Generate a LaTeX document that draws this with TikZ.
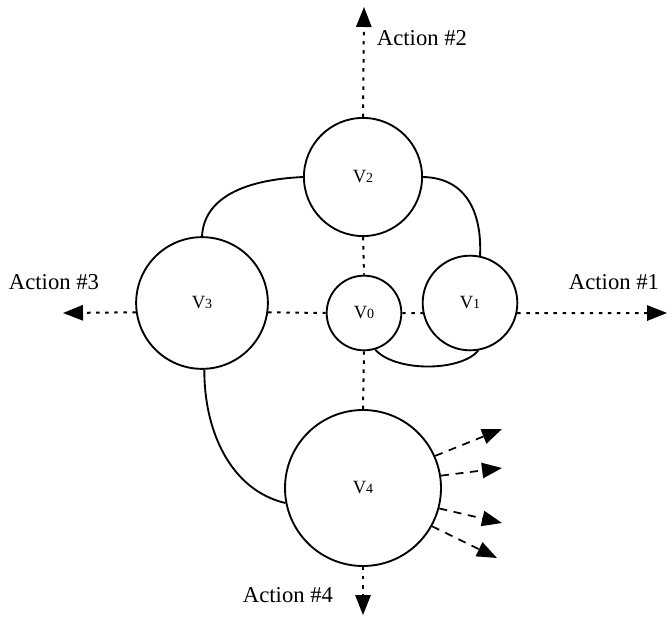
\documentclass[tikz,border=0pt]{standalone}
\usepackage{fontspec}
\setmainfont{Liberation Serif}
\usetikzlibrary{arrows.meta}
\newcommand\vlab[1]{{\fontsize{14}{16}\selectfont V}{\fontsize{10.5}{12}\selectfont #1}}
\tikzset{
  state/.style={circle,draw,line width=1.4pt,inner sep=0pt},
  act/.style={font=\fontsize{17}{20}\selectfont,inner sep=0pt},
  dotline/.style={line width=1.5pt,dash pattern=on 2.6pt off 4.2pt},
  dashline/.style={line width=1.3pt,dash pattern=on 6pt off 5pt},
  head/.style={-{Triangle[length=15pt,width=11.5pt]}},
  link/.style={line width=1.4pt}
}
\begin{document}
\begin{tikzpicture}[x=0.75pt,y=-0.75pt]
\useasboundingbox (0,0) rectangle (667,617);
% states
\node[state,minimum size=88.6pt] (v2) at (363,177) {\vlab{2}};
\node[state,minimum size=98.8pt] (v3) at (202,303) {\vlab{3}};
\node[state,minimum size=56pt]   (v0) at (364,313) {\vlab{0}};
\node[state,minimum size=71pt]   (v1) at (470,303) {\vlab{1}};
\node[state,minimum size=117pt]  (v4) at (363,488) {\vlab{4}};
% action labels
\node[act] (a2) at (422,38) {Action \#2};
\node[act] (a3) at (54,282) {Action \#3};
\node[act] (a1) at (614,282) {Action \#1};
\node[act] (a4) at (288,595) {Action \#4};
% free ends
\coordinate (up) at (364,7);
\coordinate (down) at (363,615);
\coordinate (left) at (63,313);
\coordinate (right) at (667,313);
\coordinate (t1) at (502,429);
\coordinate (t2) at (502,468);
\coordinate (t3) at (502,523);
\coordinate (t4) at (497,558);
% dotted action lines
\draw[dotline,head] (v2.north) -- (up);
\draw[dotline] (v2.south) -- (v0.north);
\draw[dotline] (v0.south) -- (v4.north);
\draw[dotline,head] (v4.south) -- (down);
\draw[dotline,head] (v3.188.6) -- (left);
\draw[dotline] (v3.-8.6) -- (v0.west);
\draw[dotline] (v0.east) -- (v1.192);
\draw[dotline,head] (v1.-12) -- (right);
% dashed arrows from v4
\draw[dashline,head] (v4.24) -- (t1);
\draw[dashline,head] (v4.9) -- (t2);
\draw[dashline,head] (v4.-15) -- (t3);
\draw[dashline,head] (v4.-29) -- (t4);
% solid curves
\draw[link] (v3.north) .. controls (204,200) and (240,180) .. (v2.west);
\draw[link] (v2.east) .. controls (468,178) and (482,215) .. (v1.78);
\draw[link] (v0.-73) .. controls (395,372) and (460,372) .. (v1.-80);
\draw[link] (v3.-88) .. controls (204,430) and (230,490) .. (v4.191);
\end{tikzpicture}
\end{document}
